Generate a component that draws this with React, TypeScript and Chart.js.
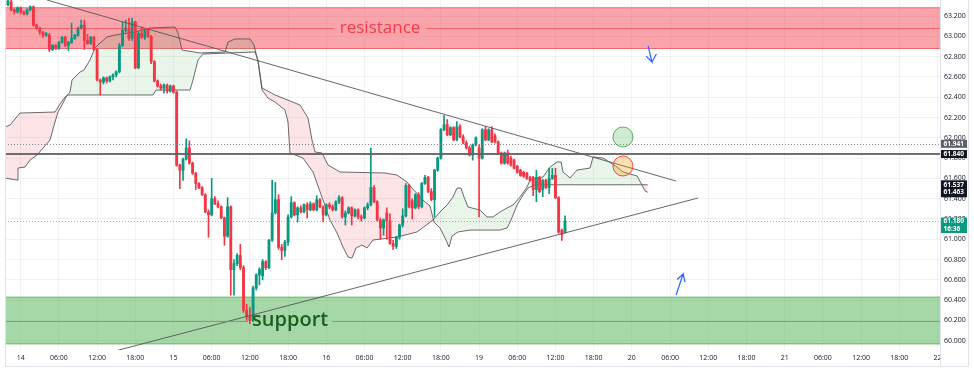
import React, { useEffect, useRef } from "react";
import { Chart, registerables } from "chart.js";

Chart.register(...registerables);

// ---------- time axis (unit = 30 minutes, 0 = the 14th 00:00) ----------
const X_MIN = -4.93;
const X_MAX = 288.8;
const X_TICK_STEP = 12;
const X_TICK_LABELS = [
  "14", "06:00", "12:00", "18:00", "15", "06:00", "12:00", "18:00",
  "16", "06:00", "12:00", "18:00", "19", "06:00", "12:00", "18:00",
  "20", "06:00", "12:00", "18:00", "21", "06:00", "12:00", "18:00", "22",
];

// ---------- price axis ----------
const Y_MIN = 59.909;
const Y_MAX = 63.358;
const PRICE_TICKS = [60.0, 60.2, 60.4, 60.6, 60.8, 61.0, 61.2, 61.4, 61.6, 61.8, 62.0, 62.2, 62.4, 62.6, 62.8, 63.0, 63.2];

// ---------- 30-minute candles ----------
const FIRST_BAR = -4;
const OPEN = [
  63.31, 63.34, 63.26, 63.24, 63.28, 63.24, 63.22, 63.26, 63.29, 63.11,
  63.08, 63.04, 63.01, 63.01, 62.87, 62.91, 62.88, 62.94, 62.99, 62.91,
  62.94, 62.98, 63.01, 63.08, 63.11, 62.96, 62.93, 62.99, 62.87, 62.57,
  62.55, 62.59, 62.56, 62.60, 62.62, 62.65, 62.91, 63.06, 63.08, 62.98,
  63.14, 62.69, 63.03, 62.99, 63.06, 63.00, 62.75, 62.56, 62.51, 62.49,
  62.52, 62.46, 62.51, 62.45, 61.73, 61.68, 61.79, 61.90, 61.75, 61.65,
  61.55, 61.51, 61.44, 61.27, 61.24, 61.40, 61.35, 61.32, 61.21, 61.03,
  61.32, 60.70, 60.76, 60.84, 60.72, 60.30, 60.24, 60.20, 60.52, 60.65,
  60.64, 60.78, 60.72, 60.99, 61.26, 61.39, 60.92, 60.89, 60.97, 61.22,
  61.36, 61.24, 61.31, 61.27, 61.34, 61.29, 61.35, 61.29, 61.39, 61.32,
  61.24, 61.34, 61.32, 61.29, 61.37, 61.41, 61.22, 61.26, 61.31, 61.23,
  61.29, 61.22, 61.21, 61.31, 61.34, 61.51, 61.37, 61.19, 61.11, 61.26,
  61.18, 60.96, 60.93, 61.02, 61.14, 61.23, 61.53, 61.38, 61.31, 61.44,
  61.32, 61.55, 61.61, 61.47, 61.39, 61.68, 61.80, 62.08, 62.13, 62.03,
  62.10, 61.98, 62.11, 62.01, 61.95, 61.90, 61.83, 61.93, 61.90, 61.80,
  62.08, 61.98, 62.08, 62.02, 61.96, 61.85, 61.75, 61.85, 61.80, 61.78,
  61.72, 61.68, 61.66, 61.65, 61.61, 61.61, 61.49, 61.61, 61.49, 61.58,
  61.51, 61.60, 61.63, 61.41, 61.09, 61.07,
];
const HIGH = [
  63.36, 63.36, 63.27, 63.29, 63.29, 63.25, 63.27, 63.30, 63.30, 63.12,
  63.09, 63.05, 63.04, 63.03, 62.92, 62.92, 62.95, 63.00, 63.00, 62.95,
  63.13, 63.02, 63.09, 63.16, 63.16, 63.02, 63.00, 63.00, 62.88, 62.58,
  62.60, 62.60, 62.61, 62.63, 62.66, 62.93, 63.14, 63.16, 63.18, 63.18,
  63.15, 63.05, 63.09, 63.07, 63.08, 63.01, 62.76, 62.57, 62.53, 62.53,
  62.53, 62.52, 62.52, 62.46, 61.74, 61.80, 61.99, 61.97, 61.76, 61.66,
  61.56, 61.52, 61.45, 61.29, 61.60, 61.42, 61.38, 61.33, 61.22, 61.41,
  61.33, 60.80, 60.86, 60.95, 60.74, 60.36, 60.33, 60.54, 60.66, 60.72,
  60.80, 60.79, 61.00, 61.58, 61.56, 61.44, 60.95, 60.99, 61.24, 61.42,
  61.37, 61.32, 61.33, 61.35, 61.36, 61.37, 61.36, 61.43, 61.40, 61.33,
  61.35, 61.36, 61.34, 61.38, 61.43, 61.42, 61.28, 61.32, 61.32, 61.30,
  61.30, 61.24, 61.32, 61.36, 61.90, 61.53, 61.38, 61.21, 61.20, 61.31,
  61.25, 60.99, 61.03, 61.15, 61.30, 61.55, 61.54, 61.40, 61.45, 61.46,
  61.56, 61.63, 61.62, 61.50, 61.69, 61.81, 62.09, 62.22, 62.18, 62.11,
  62.11, 62.16, 62.13, 62.03, 61.97, 61.92, 61.94, 62.01, 61.93, 62.09,
  62.11, 62.09, 62.11, 62.04, 61.97, 61.86, 61.86, 61.88, 61.82, 61.79,
  61.73, 61.69, 61.67, 61.66, 61.62, 61.62, 61.68, 61.62, 61.59, 61.59,
  61.70, 61.70, 61.70, 61.42, 61.10, 61.23,
];
const LOW = [
  63.30, 63.25, 63.22, 63.23, 63.22, 63.21, 63.21, 63.25, 63.10, 63.07,
  63.02, 62.99, 63.00, 62.85, 62.86, 62.87, 62.87, 62.93, 62.90, 62.86,
  62.93, 62.97, 63.00, 63.07, 62.87, 62.92, 62.92, 62.86, 62.56, 62.42,
  62.53, 62.54, 62.55, 62.57, 62.60, 62.64, 62.90, 63.04, 62.96, 62.96,
  62.68, 62.68, 62.98, 62.97, 62.99, 62.73, 62.55, 62.50, 62.47, 62.44,
  62.44, 62.45, 62.44, 61.72, 61.50, 61.58, 61.78, 61.74, 61.64, 61.49,
  61.50, 61.43, 61.26, 61.02, 61.23, 61.34, 61.31, 61.20, 60.94, 61.02,
  60.45, 60.45, 60.74, 60.70, 60.28, 60.20, 60.17, 60.19, 60.50, 60.55,
  60.60, 60.70, 60.71, 60.98, 61.25, 60.90, 60.80, 60.83, 60.94, 61.21,
  61.23, 61.17, 61.26, 61.26, 61.21, 61.28, 61.28, 61.28, 61.31, 61.17,
  61.23, 61.30, 61.28, 61.28, 61.35, 61.21, 61.14, 61.25, 61.14, 61.22,
  61.20, 61.18, 61.20, 61.29, 61.33, 61.36, 61.18, 61.00, 61.04, 61.00,
  60.95, 60.90, 60.91, 61.00, 61.12, 61.22, 61.31, 61.20, 61.30, 61.30,
  61.31, 61.54, 61.46, 61.38, 61.22, 61.67, 61.79, 62.07, 62.02, 62.02,
  61.97, 61.97, 62.00, 61.94, 61.89, 61.82, 61.78, 61.92, 61.22, 61.79,
  61.97, 61.97, 61.95, 61.95, 61.84, 61.74, 61.74, 61.74, 61.72, 61.69,
  61.65, 61.62, 61.61, 61.59, 61.57, 61.43, 61.37, 61.46, 61.42, 61.50,
  61.45, 61.59, 61.40, 61.06, 60.99, 61.06,
];
const CLOSE = [
  63.35, 63.26, 63.24, 63.28, 63.24, 63.22, 63.26, 63.29, 63.11, 63.08,
  63.04, 63.01, 63.03, 62.87, 62.91, 62.88, 62.94, 62.99, 62.91, 62.94,
  62.98, 63.01, 63.08, 63.11, 62.96, 62.93, 62.99, 62.87, 62.57, 62.55,
  62.59, 62.56, 62.60, 62.62, 62.65, 62.91, 63.06, 63.08, 62.98, 63.14,
  62.69, 63.03, 62.99, 63.06, 63.00, 62.75, 62.56, 62.51, 62.49, 62.52,
  62.46, 62.51, 62.45, 61.73, 61.68, 61.79, 61.90, 61.75, 61.65, 61.55,
  61.51, 61.44, 61.27, 61.24, 61.40, 61.35, 61.32, 61.21, 61.03, 61.32,
  60.70, 60.76, 60.84, 60.72, 60.30, 60.24, 60.20, 60.52, 60.65, 60.70,
  60.78, 60.72, 60.99, 61.26, 61.39, 60.92, 60.89, 60.97, 61.22, 61.36,
  61.24, 61.31, 61.27, 61.34, 61.29, 61.35, 61.29, 61.39, 61.32, 61.24,
  61.34, 61.32, 61.29, 61.37, 61.41, 61.22, 61.26, 61.31, 61.23, 61.29,
  61.22, 61.21, 61.31, 61.34, 61.51, 61.37, 61.19, 61.11, 61.19, 61.18,
  60.96, 60.93, 61.02, 61.14, 61.23, 61.53, 61.32, 61.31, 61.44, 61.32,
  61.55, 61.61, 61.47, 61.39, 61.68, 61.80, 62.08, 62.13, 62.03, 62.10,
  61.98, 62.11, 62.01, 61.95, 61.90, 61.83, 61.93, 62.00, 61.80, 62.08,
  61.98, 62.08, 61.96, 61.96, 61.85, 61.75, 61.85, 61.75, 61.73, 61.70,
  61.66, 61.63, 61.62, 61.60, 61.58, 61.49, 61.61, 61.47, 61.58, 61.51,
  61.60, 61.63, 61.41, 61.07, 61.05, 61.18,
];

// ---------- Ichimoku leading spans (time, price) ----------
const SPAN_A_T = [
  -5, -1.16, -0.85, 1.35, 2.92, 5.12, 7.01, 9.21, 10.78, 11.72, 12.98, 14.23, 15.49, 16.12, 18.63, 19.89,
  21.77, 23.34, 24.91, 27.11, 29.62, 35.91, 40.62, 48.48, 49.42, 50.68, 56.33, 64.19, 65.13, 67.33, 72.04,
  73.3, 74.55, 75.81, 77.69, 79.89, 83.03, 83.97, 84.6, 88.69, 91.83, 94.97, 97.17, 99.37, 101.26, 102.83,
  104.08, 105.34, 107.22, 108.79, 110.68, 118.22, 124.5, 129.53, 131.73, 133.93, 135.81, 137.07, 138.33,
  139.27, 140.53, 144.3, 146.5, 148.38, 150.58, 152.78, 154.67, 156.87, 159.07, 160.01, 164.1, 166.3,
  168.5, 169.75, 170.38, 172.58, 174.78, 178.86, 179.8, 182.94, 187.34, 189.23, 193.62, 195.19, 196.13, 197,
];
const SPAN_A_V = [
  61.604, 61.584, 61.702, 61.712, 61.781, 61.83, 61.899, 61.978, 62.156, 62.254, 62.323, 62.402, 62.451, 62.57, 62.648, 62.668,
  62.767, 62.885, 62.934, 62.993, 63.013, 63.043, 63.082, 63.092, 63.033, 62.865, 62.836, 62.846, 62.944, 62.974, 62.974,
  62.915, 62.747, 62.471, 62.392, 62.353, 62.274, 62.156, 61.85, 61.801, 61.663, 61.387, 61.19, 61.062, 60.924, 60.825,
  60.815, 60.914, 60.944, 60.914, 60.993, 61.022, 61.072, 61.19, 61.269, 61.338, 61.417, 61.505, 61.505,
  61.417, 61.318, 61.288, 61.22, 61.22, 61.269, 61.308, 61.338, 61.417, 61.515, 61.584, 61.614, 61.712,
  61.762, 61.762, 61.663, 61.604, 61.683, 61.702, 61.811, 61.801, 61.712, 61.663, 61.624, 61.535, 61.476, 61.463,
];
const SPAN_B_T = [
  -5, -3.36, -1.79, -0.22, 10.78, 12.35, 13.92, 14.86, 41.56, 42.5, 53.19, 54.13, 55.7, 57.27, 73.61, 74.55,
  75.81, 79.89, 87.75, 90.26, 91.52, 92.46, 94.66, 96.54, 100.31, 114.45, 118.22, 121.36, 122.93, 126.38,
  128.59, 129.84, 131.73, 133.61, 134.56, 135.5, 137.38, 141.15, 150.58, 152.78, 154.04, 155.92, 157.81,
  159.38, 161.58, 197,
];
const SPAN_B_V = [
  62.106, 62.126, 62.185, 62.244, 62.254, 62.333, 62.402, 62.422, 62.422, 62.471, 62.471, 62.57, 62.767, 62.826, 62.846, 62.767,
  62.491, 62.422, 62.323, 62.195, 61.978, 61.86, 61.85, 61.732, 61.663, 61.653, 61.633, 61.564, 61.505, 61.387,
  61.328, 61.17, 61.111, 60.993, 60.924, 61.032, 61.072, 61.091, 61.091, 61.111, 61.19, 61.338, 61.436,
  61.505, 61.537, 61.537,
];

// ---------- drawings ----------
const RESISTANCE = [62.875, 63.286];
const RESISTANCE_MID = 63.079;
const RESISTANCE_LABEL_T = 112.9;
const SUPPORT = [59.965, 60.434];
const SUPPORT_MID = 60.197;
const SUPPORT_LABEL_T = 72.7;
const LEVEL_DOTTED = 61.941;
const LEVEL_SOLID = 61.84;
const LAST_PRICE = 61.18;
const COUNTDOWN = "16:36";
const TREND_DOWN_T = [8.26, 205.87];
const TREND_DOWN_V = [63.358, 61.574];
const TREND_UP_T = [29.63, 212.8];
const TREND_UP_V = [59.899, 61.407];
const CIRCLE_T = 189.2;
const CIRCLE_GREEN_V = 62.008;
const CIRCLE_RED_V = 61.722;
// arrows: stem start, tip, left barb, (gap), tip, right barb
const ARROW_DOWN_T = [197.1, 198.3, 196.5, 198.3, 198.3, 199.7];
const ARROW_DOWN_V = [62.905, 62.747, 62.805, null, 62.747, 62.826];
const ARROW_UP_T = [205.9, 208.1, 206.2, 208.1, 208.1, 208.7];
const ARROW_UP_V = [60.451, 60.658, 60.604, null, 60.658, 60.578];

const UP = "#089981";
const DOWN = "#f23645";
const FONT = "'Open Sans', 'Noto Sans', sans-serif";
const GRID = "rgba(42,46,57,0.06)";

const pts = (ts: number[], vs: (number | null)[]) => ts.map((t, i) => ({ x: t, y: vs[i] }));

const overlay = {
  id: "overlay",
  beforeDatasetsDraw(chart: any) {
    const { ctx, chartArea: a } = chart;
    const y = chart.scales.y;
    ctx.save();
    ctx.beginPath();
    ctx.rect(a.left, a.top, a.right - a.left, a.bottom - a.top);
    ctx.clip();
    const zone = (lo: number, hi: number, fill: string, edge: string) => {
      const y1 = y.getPixelForValue(hi);
      const y2 = y.getPixelForValue(lo);
      ctx.fillStyle = fill;
      ctx.fillRect(a.left, y1, a.right - a.left, y2 - y1);
      ctx.strokeStyle = edge;
      ctx.lineWidth = 1;
      ctx.beginPath();
      ctx.moveTo(a.left, y1 + 0.5);
      ctx.lineTo(a.right, y1 + 0.5);
      ctx.moveTo(a.left, y2 - 0.5);
      ctx.lineTo(a.right, y2 - 0.5);
      ctx.stroke();
    };
    zone(RESISTANCE[0], RESISTANCE[1], "rgba(242,54,69,0.45)", "rgba(242,54,69,0.55)");
    zone(SUPPORT[0], SUPPORT[1], "rgba(76,175,80,0.5)", "rgba(76,175,80,0.65)");
    ctx.restore();
  },
  afterDatasetsDraw(chart: any) {
    const { ctx, chartArea: a } = chart;
    const x = chart.scales.x;
    const y = chart.scales.y;
    ctx.save();
    ctx.beginPath();
    ctx.rect(a.left, a.top, a.right - a.left, a.bottom - a.top);
    ctx.clip();

    const hline = (v: number, color: string, width: number, dash: number[]) => {
      const py = Math.round(y.getPixelForValue(v)) + (width % 2 ? 0.5 : 0);
      ctx.strokeStyle = color;
      ctx.lineWidth = width;
      ctx.setLineDash(dash);
      ctx.beginPath();
      ctx.moveTo(a.left, py);
      ctx.lineTo(a.right, py);
      ctx.stroke();
      ctx.setLineDash([]);
    };
    hline(LEVEL_DOTTED, "rgba(120,123,134,0.9)", 1, [1, 2]);
    hline(LEVEL_SOLID, "rgba(95,95,100,0.9)", 2, []);
    hline(LAST_PRICE, "rgba(8,153,129,0.55)", 1, [1, 2]);

    // resistance label with broken midline
    ctx.font = `17px ${FONT}`;
    ctx.textBaseline = "middle";
    ctx.textAlign = "center";
    const rx = x.getPixelForValue(RESISTANCE_LABEL_T);
    const ry = y.getPixelForValue(RESISTANCE_MID);
    const rw = ctx.measureText("resistance").width;
    ctx.strokeStyle = "rgba(242,54,69,0.6)";
    ctx.lineWidth = 1;
    ctx.beginPath();
    ctx.moveTo(a.left, Math.round(ry) + 0.5);
    ctx.lineTo(rx - rw / 2 - 6, Math.round(ry) + 0.5);
    ctx.moveTo(rx + rw / 2 + 6, Math.round(ry) + 0.5);
    ctx.lineTo(a.right, Math.round(ry) + 0.5);
    ctx.stroke();
    ctx.fillStyle = "rgba(242,54,69,0.95)";
    ctx.fillText("resistance", rx, ry);

    // support label with broken midline
    ctx.font = `600 20px ${FONT}`;
    ctx.textAlign = "left";
    const sx = x.getPixelForValue(SUPPORT_LABEL_T);
    const sy = y.getPixelForValue(SUPPORT_MID);
    const sw = ctx.measureText("support").width;
    ctx.strokeStyle = "rgba(76,175,80,0.8)";
    ctx.beginPath();
    ctx.moveTo(a.left, Math.round(sy) + 0.5);
    ctx.lineTo(sx - 4, Math.round(sy) + 0.5);
    ctx.moveTo(sx + sw + 4, Math.round(sy) + 0.5);
    ctx.lineTo(a.right, Math.round(sy) + 0.5);
    ctx.stroke();
    ctx.fillStyle = "#1b5e20";
    ctx.fillText("support", sx, sy);

    // circles
    const circle = (t: number, v: number, fill: string, stroke: string) => {
      ctx.beginPath();
      ctx.arc(x.getPixelForValue(t), y.getPixelForValue(v), 10, 0, Math.PI * 2);
      ctx.fillStyle = fill;
      ctx.fill();
      ctx.strokeStyle = stroke;
      ctx.lineWidth = 1;
      ctx.stroke();
    };
    circle(CIRCLE_T, CIRCLE_GREEN_V, "rgba(76,175,80,0.25)", "rgba(76,175,80,0.95)");
    circle(CIRCLE_T, CIRCLE_RED_V, "rgba(255,152,0,0.3)", "rgba(242,54,69,0.9)");
    ctx.restore();
  },
  afterDraw(chart: any) {
    const { ctx, chartArea: a, width } = chart;
    const y = chart.scales.y;
    ctx.save();
    // hide the part of the last time label that runs under the price scale
    ctx.fillStyle = "#ffffff";
    ctx.fillRect(a.right + 1, a.bottom + 1, width - a.right, 16);

    const bx = a.right + 1;
    const bw = 26;
    const badge = (top: number, bottom: number, bg: string, lines: [string, number][]) => {
      ctx.fillStyle = bg;
      ctx.fillRect(bx, top, bw, bottom - top);
      ctx.fillStyle = "#ffffff";
      ctx.font = `bold 6.5px ${FONT}`;
      ctx.textAlign = "left";
      ctx.textBaseline = "middle";
      lines.forEach(([s, py]) => ctx.fillText(s, bx + 2.5, py));
    };
    const p = (v: number) => y.getPixelForValue(v);
    badge(p(LEVEL_DOTTED) - 4, p(LEVEL_DOTTED) + 4, "#5d606b", [[LEVEL_DOTTED.toFixed(3), p(LEVEL_DOTTED)]]);
    badge(p(LEVEL_SOLID) - 4, p(LEVEL_SOLID) + 4, "#131722", [[LEVEL_SOLID.toFixed(3), p(LEVEL_SOLID)]]);
    const bLast = SPAN_B_V[SPAN_B_V.length - 1];
    const aLast = SPAN_A_V[SPAN_A_V.length - 1];
    badge(p(bLast) - 4.5, p(aLast) + 5, "#131722", [
      [bLast.toFixed(3), p(bLast)],
      [aLast.toFixed(3), p(aLast)],
    ]);
    badge(p(LAST_PRICE) - 3.5, p(LAST_PRICE) + 12, UP, [
      [LAST_PRICE.toFixed(3), p(LAST_PRICE)],
      [COUNTDOWN, p(LAST_PRICE) + 8],
    ]);

    // frame
    ctx.strokeStyle = "#e0e3eb";
    ctx.lineWidth = 1;
    ctx.beginPath();
    ctx.moveTo(a.left + 0.5, 0);
    ctx.lineTo(a.left + 0.5, 366.5);
    ctx.lineTo(968.5, 366.5);
    ctx.lineTo(968.5, 0);
    ctx.moveTo(a.right + 0.5, 0);
    ctx.lineTo(a.right + 0.5, 366.5);
    ctx.stroke();
    ctx.restore();
  },
};

export default function App() {
  const ref = useRef<HTMLCanvasElement | null>(null);
  useEffect(() => {
    if (!ref.current) return;
    const bars = OPEN.map((_, i) => FIRST_BAR + i);
    const colors = OPEN.map((o, i) => (CLOSE[i] >= o ? UP : DOWN));
    const chart = new Chart(ref.current, {
      type: "bar",
      data: {
        datasets: [
          {
            type: "bar",
            label: "wick",
            data: bars.map((t, i) => ({ x: t, y: [LOW[i], HIGH[i]] })) as any,
            backgroundColor: colors,
            grouped: false,
            maxBarThickness: 1,
            barPercentage: 1,
            categoryPercentage: 1,
            order: 3,
          } as any,
          {
            type: "bar",
            label: "body",
            data: bars.map((t, i) => ({ x: t, y: [OPEN[i], CLOSE[i]] })) as any,
            backgroundColor: colors,
            grouped: false,
            maxBarThickness: 2.2,
            barPercentage: 1,
            categoryPercentage: 1,
            minBarLength: 1,
            order: 2,
          } as any,
          {
            type: "line",
            label: "span A",
            data: pts(SPAN_A_T, SPAN_A_V),
            borderColor: "rgba(80,80,85,0.85)",
            borderWidth: 1,
            pointRadius: 0,
            tension: 0,
            fill: { target: 3, above: "rgba(76,175,80,0.13)", below: "rgba(242,54,69,0.13)" },
            order: 10,
          } as any,
          {
            type: "line",
            label: "span B",
            data: pts(SPAN_B_T, SPAN_B_V),
            borderColor: "rgba(80,80,85,0.85)",
            borderWidth: 1,
            pointRadius: 0,
            tension: 0,
            fill: false,
            order: 11,
          } as any,
          {
            type: "line",
            label: "trend down",
            data: pts(TREND_DOWN_T, TREND_DOWN_V),
            borderColor: "rgba(85,85,90,0.9)",
            borderWidth: 1,
            pointRadius: 0,
            order: 1,
          } as any,
          {
            type: "line",
            label: "trend up",
            data: pts(TREND_UP_T, TREND_UP_V),
            borderColor: "rgba(85,85,90,0.9)",
            borderWidth: 1,
            pointRadius: 0,
            order: 1,
          } as any,
          {
            type: "line",
            label: "arrow down",
            data: pts(ARROW_DOWN_T, ARROW_DOWN_V),
            borderColor: "#2962ff",
            borderWidth: 1.2,
            pointRadius: 0,
            spanGaps: false,
            order: 1,
          } as any,
          {
            type: "line",
            label: "arrow up",
            data: pts(ARROW_UP_T, ARROW_UP_V),
            borderColor: "#2962ff",
            borderWidth: 1.2,
            pointRadius: 0,
            spanGaps: false,
            order: 1,
          } as any,
        ],
      },
      options: {
        responsive: false,
        animation: false,
        events: [],
        layout: { padding: { left: 5, top: 0, right: 0, bottom: 0 } },
        plugins: { legend: { display: false }, tooltip: { enabled: false } },
        scales: {
          x: {
            type: "linear",
            min: X_MIN,
            max: X_MAX,
            offset: false,
            grid: { color: GRID, drawTicks: false, offset: false },
            border: { display: false },
            afterBuildTicks: (axis: any) => {
              axis.ticks = X_TICK_LABELS.map((_, i) => ({ value: i * X_TICK_STEP }));
            },
            afterFit: (axis: any) => {
              axis.height = 22;
              axis.paddingLeft = 0;
              axis.paddingRight = 0;
            },
            ticks: {
              autoSkip: false,
              maxRotation: 0,
              padding: 4,
              color: "#131722",
              font: { size: 7, family: FONT },
              callback: (_v: any, i: number) => X_TICK_LABELS[i],
            },
          },
          y: {
            type: "linear",
            position: "right",
            min: Y_MIN,
            max: Y_MAX,
            stacked: false,
            grid: { color: GRID, drawTicks: false },
            border: { display: false },
            afterBuildTicks: (axis: any) => {
              axis.ticks = PRICE_TICKS.map((v) => ({ value: v }));
            },
            afterFit: (axis: any) => {
              axis.width = 34;
              axis.paddingTop = 0;
              axis.paddingBottom = 0;
            },
            ticks: {
              padding: 4,
              color: "#131722",
              font: { size: 7, family: FONT },
              callback: (v: any) => Number(v).toFixed(3),
            },
          },
        },
      } as any,
      plugins: [overlay],
    });
    return () => chart.destroy();
  }, []);
  return (
    <div style={{ position: "fixed", left: 0, top: 0, width: 974, height: 372, background: "#ffffff" }}>
      <canvas ref={ref} width={974} height={372} style={{ display: "block" }} />
    </div>
  );
}
